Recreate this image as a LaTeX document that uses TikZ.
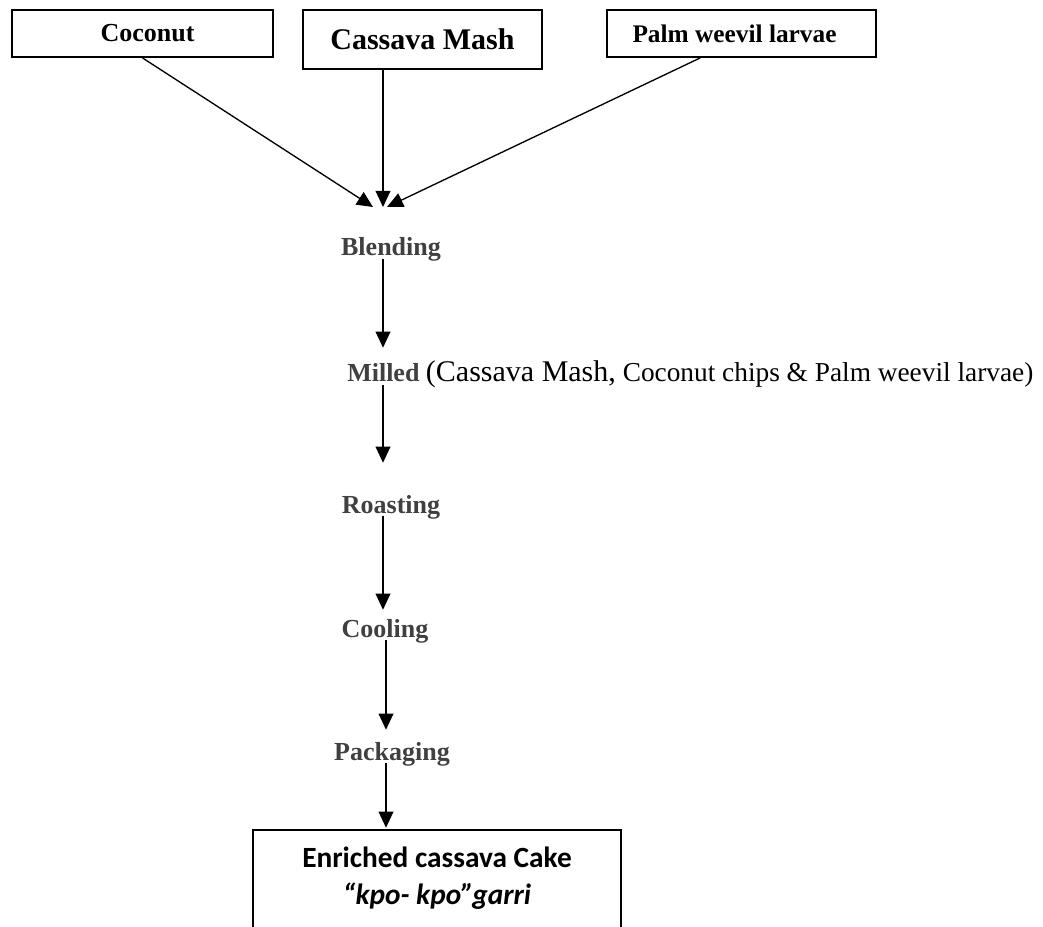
\documentclass[tikz,border=0pt]{standalone}
\usepackage{fontspec}
\setmainfont{Liberation Serif}
\newfontfamily\calibri{Carlito}
\usepackage{xcolor}
\usepackage{tikz}
\usetikzlibrary{arrows.meta}
\definecolor{stagegray}{HTML}{404040}

\begin{document}
\begin{tikzpicture}[x=0.75pt, y=-0.75pt,
	source/.style={draw, line width=1.4pt, inner sep=0pt, font=\bfseries\fontsize{19.5}{23}\selectfont},
	stage/.style={inner sep=0pt, text height=13.5pt, text depth=2.25pt, text=stagegray, font=\bfseries\fontsize{19.5}{23}\selectfont},
	flow/.style={line width=1pt, -{Triangle[width=11pt,length=12pt]}}]
	\useasboundingbox (0,0) rectangle (1043,927);
	% ingredients
	\node[source, minimum width=195.75pt, minimum height=35.25pt] (coco) at (142.5,33.5) {\hspace*{7.5pt}Coconut};
	\node[source, minimum width=179.25pt, minimum height=44.25pt, font=\bfseries\fontsize{22.5}{26}\selectfont] (mash) at (422.5,39.5) {Cassava Mash};
	\node[source, minimum width=201.75pt, minimum height=35.25pt, font=\bfseries\fontsize{19}{23}\selectfont] (palm) at (741.5,33.5) {Palm weevil larvae\hspace*{10.5pt}};
	\coordinate (hub) at (383,207);
	\draw[flow] (coco.south) -- ([xshift=-7.5pt]hub);
	\draw[flow] (mash.south -| hub) -- (hub);
	\draw[flow] ([xshift=-31pt]palm.south) -- ([xshift=3pt]hub);
	% process steps
	\node[stage, anchor=base] (blend) at (391,256) {Blending};
	\node[stage, anchor=base west] (milled) at (347,382) {Milled {\mdseries\color{black}\fontsize{22.5}{26}\selectfont (Cassava Mash,\fontsize{20.5}{24}\selectfont{} Coconut chips \& Palm weevil larvae)}};
	\node[stage, anchor=base] (roast) at (391,513) {Roasting};
	\node[stage, anchor=base] (cool) at (385,637) {Cooling};
	\node[stage, anchor=base] (pack) at (392,760) {Packaging};
	\coordinate (spine) at (383,0);
	\coordinate (spineB) at (386,0);
	\draw[flow, shorten >=12pt] (blend.south -| spine) -- (milled.north -| spine);
	\draw[flow, shorten >=24pt] (milled.south -| spine) -- (roast.north -| spine);
	\draw[flow, shorten >=6.75pt] (roast.south -| spine) -- (cool.north -| spine);
	\draw[flow, shorten >=9pt] (cool.south -| spineB) -- (pack.north -| spineB);
	% product
	\node[inner sep=0pt, minimum width=276pt, minimum height=72.75pt, align=center, font=\calibri\bfseries\fontsize{22}{27.75}\selectfont] (cake) at (437,878.5) {Enriched cassava Cake\\\textit{“kpo- kpo”garri}};
	\draw[line width=1.4pt] (cake.south west) -- (cake.north west) -- (cake.north east) -- (cake.south east);
	\draw[flow, shorten >=1.5pt] (pack.south -| spineB) -- (cake.north -| spineB);
\end{tikzpicture}
\end{document}
